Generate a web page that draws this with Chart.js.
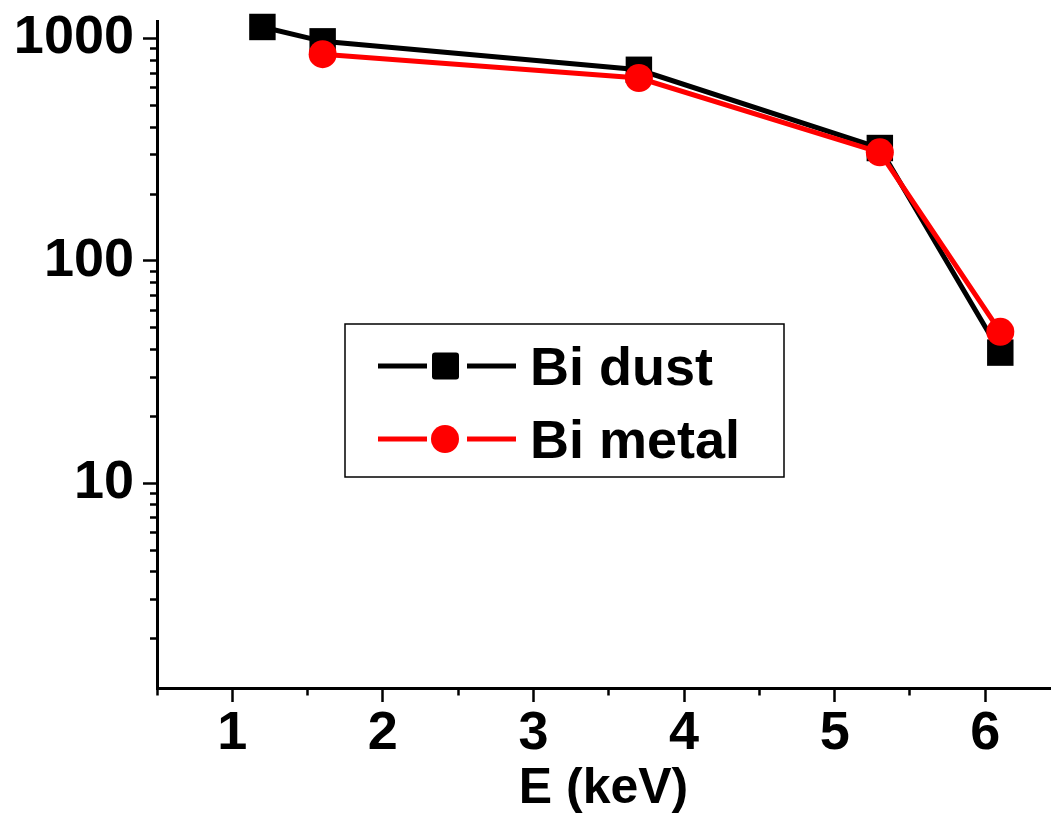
<!DOCTYPE html>
<html lang="en">
<head>
<meta charset="UTF-8">
<title>Bi dust / Bi metal</title>
<style>
  body { margin: 0; background: #fff; }
  #wrap { width: 1051px; height: 821px; }
</style>
</head>
<body>
<div id="wrap"><canvas id="myChart"></canvas></div>

<script src="https://cdn.jsdelivr.net/npm/chart.js"></script>
<script>
// values (log y axis)
const dustE = [1.2, 1.6, 3.7, 5.3, 6.1]
const dustCounts = [1128, 972, 724, 322, 38.7]
const metalE = [1.6, 3.7, 5.3, 6.1]
const metalCounts = [851, 665, 308, 48]

const xMajorTicks = [1, 2, 3, 4, 5, 6]
const xMinorTicks = [0.5, 1.5, 2.5, 3.5, 4.5, 5.5]
const yMajorTicks = [10, 100, 1000]
const yMinorTicks = [2, 3, 4, 5, 6, 7, 8, 9, 20, 30, 40, 50, 60, 70, 80, 90,
                     200, 300, 400, 500, 600, 700, 800, 900]

Chart.defaults.font.family = "'Liberation Sans', Arial, sans-serif"
Chart.defaults.color = '#000'

function toPoints(xs, ys) {
  return xs.map((x, i) => ({ x: x, y: ys[i] }))
}

function tickSetter(major, minor) {
  return function (scale) {
    scale.ticks = major.map(v => ({ value: v, major: true }))
      .concat(minor.map(v => ({ value: v, major: false })))
      .sort((a, b) => a.value - b.value)
  }
}

const isMajor = c => c.tick && c.tick.major

// legend box inside the plot, drawn by hand like the original
const boxLegend = {
  id: 'boxLegend',
  afterDraw(chart) {
    const ctx = chart.ctx
    ctx.save()
    ctx.fillStyle = '#fff'
    ctx.fillRect(345, 324, 439, 153)
    ctx.strokeStyle = '#000'
    ctx.lineWidth = 1.5
    ctx.strokeRect(345, 324, 439, 153)

    const rows = [chart.data.datasets[0], chart.data.datasets[1]]
    rows.forEach((ds, i) => {
      const y = 366 + i * 73
      ctx.strokeStyle = ds.borderColor
      ctx.lineWidth = 5
      ctx.beginPath()
      ctx.moveTo(378, y); ctx.lineTo(427, y)
      ctx.moveTo(467, y); ctx.lineTo(516, y)
      ctx.stroke()
      ctx.fillStyle = ds.pointBackgroundColor
      ctx.beginPath()
      if (ds.pointStyle === 'rect') {
        ctx.roundRect(445.5 - 13.5, y - 13.5, 27, 27, 3)
      } else {
        ctx.arc(445, y, 14, 0, Math.PI * 2)
      }
      ctx.fill()
      ctx.fillStyle = '#000'
      ctx.font = "bold 54px 'Liberation Sans', Arial, sans-serif"
      ctx.textBaseline = 'alphabetic'
      ctx.fillText(ds.label, 530, y + 19)
    })
    ctx.restore()
  }
}

new Chart(document.querySelector('#myChart'), {
  type: 'line',
  data: {
    datasets: [{
      label: 'Bi dust',
      data: toPoints(dustE, dustCounts),
      borderColor: '#000',
      borderWidth: 5,
      pointStyle: 'rect',
      pointRadius: 18.7,
      pointBackgroundColor: '#000',
      pointBorderWidth: 0,
      clip: false,
      order: 1
    }, {
      label: 'Bi metal',
      data: toPoints(metalE, metalCounts),
      borderColor: '#ff0000',
      borderWidth: 5,
      pointStyle: 'circle',
      pointRadius: 14,
      pointBackgroundColor: '#ff0000',
      pointBorderWidth: 0,
      clip: false,
      order: 0
    }]
  },
  options: {
    responsive: true,
    maintainAspectRatio: false,
    animation: false,
    devicePixelRatio: 1,
    layout: { autoPadding: false, padding: { top: 21, right: 1, left: 0, bottom: 0 } },
    plugins: { legend: { display: false }, tooltip: { enabled: false } },
    scales: {
      x: {
        type: 'linear',
        min: 0.5,
        max: 6.43,
        afterBuildTicks: tickSetter(xMajorTicks, xMinorTicks),
        afterFit: s => { s.height = 133; s.paddingLeft = 0; s.paddingRight = 0 },
        border: { color: '#000', width: 3 },
        grid: {
          drawOnChartArea: false,
          tickColor: '#000',
          tickWidth: 2.5,
          tickLength: 14,
          tickBorderDash: c => isMajor(c) ? [] : [5.5, 50]
        },
        ticks: {
          autoSkip: false,
          maxRotation: 0,
          padding: 0,
          font: { size: 54, weight: 'bold' },
          callback: (v, i, ticks) => ticks[i].major ? String(v) : ''
        },
        title: {
          display: true,
          text: 'E (keV)',
          font: { size: 50, weight: 'bold' },
          padding: { top: 0, bottom: 2 }
        }
      },
      y: {
        type: 'logarithmic',
        min: 1.2,
        max: 1200,
        afterBuildTicks: tickSetter(yMajorTicks, yMinorTicks),
        afterFit: s => { s.width = 157; s.paddingTop = 0; s.paddingBottom = 0 },
        border: { color: '#000', width: 3 },
        grid: {
          drawOnChartArea: false,
          tickColor: '#000',
          tickWidth: 2.5,
          tickLength: 14,
          tickBorderDash: c => isMajor(c) ? [] : [0, 7, 50]
        },
        ticks: {
          autoSkip: false,
          padding: 9,
          font: { size: 54, weight: 'bold', lineHeight: 0.5 },
          callback: (v, i, ticks) => ticks[i].major ? String(v) : ''
        }
      }
    }
  },
  plugins: [boxLegend]
})
</script>
</body>
</html>
